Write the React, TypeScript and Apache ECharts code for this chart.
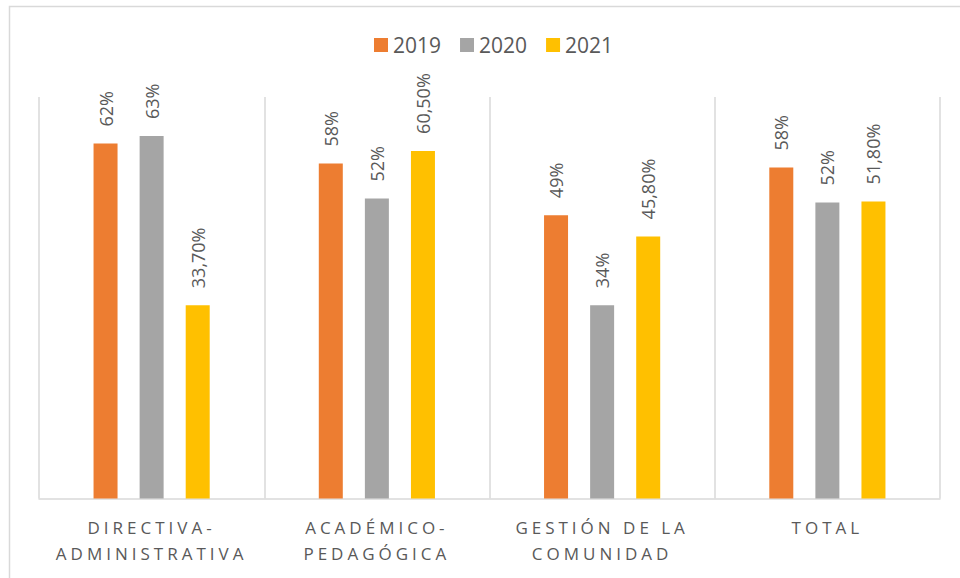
import React, { useEffect, useRef } from "react";
import * as echarts from "echarts";

const categories = [
  "DIRECTIVA-\nADMINISTRATIVA",
  "ACADÉMICO-\nPEDAGÓGICA",
  "GESTIÓN DE LA\nCOMUNIDAD",
  "TOTAL",
];
const seriesNames = ["2019", "2020", "2021"];
const values2019 = [61.9, 58.4, 49.4, 57.7];
const values2020 = [63.2, 52.3, 33.7, 51.6];
const values2021 = [33.7, 60.6, 45.7, 51.8];
const labels2019 = ["62%", "58%", "49%", "58%"];
const labels2020 = ["63%", "52%", "34%", "52%"];
const labels2021 = ["33,70%", "60,50%", "45,80%", "51,80%"];
const colors = ["#ED7D31", "#A5A5A5", "#FFC000"];

const FONT = "'Open Sans', 'Noto Sans', sans-serif";

export default function App() {
  const ref = useRef<HTMLDivElement>(null);
  useEffect(() => {
    const el = ref.current!;
    const chart = echarts.init(el, null, { renderer: "svg" });
    const allValues = [values2019, values2020, values2021];
    const allLabels = [labels2019, labels2020, labels2021];
    const series = seriesNames.map((name, i) => ({
      name,
      type: "bar",
      data: allValues[i],
      barWidth: 24,
      barGap: "92%",
      itemStyle: { color: colors[i] },
      label: {
        show: true,
        position: "top",
        rotate: 90,
        align: "left",
        verticalAlign: "middle",
        distance: 17,
        color: "#595959",
        fontFamily: FONT,
        fontSize: 18,
        formatter: (p: any) => allLabels[i][p.dataIndex],
      },
    }));
    chart.setOption({
      animation: false,
      backgroundColor: "#ffffff",
      graphic: [
        {
          type: "rect",
          shape: { x: 9.5, y: 6.5, width: 2000, height: 2000 },
          style: { fill: "none", stroke: "#d9d9d9", lineWidth: 1.5 },
          silent: true,
        },
      ],
      legend: {
        top: 28,
        left: 369,
        itemWidth: 14,
        itemHeight: 14,
        itemGap: 19,
        icon: "rect",
        textStyle: {
          color: "#595959",
          fontFamily: FONT,
          fontSize: 21,
          lineHeight: 24,
          padding: [0, 0, 0, 0],
        },
        data: seriesNames,
      },
      grid: { left: 39, right: 20, top: 97, bottom: 79.5, containLabel: false },
      xAxis: {
        type: "category",
        data: categories,
        axisTick: { show: false },
        axisLine: { show: true, lineStyle: { color: "#d9d9d9", width: 1.5 } },
        splitLine: { show: true, lineStyle: { color: "#d9d9d9", width: 1.5 } },
        axisLabel: {
          color: "#595959",
          fontFamily: FONT,
          fontSize: 17,
          lineHeight: 26,
          margin: 16,
          interval: 0,
        },
      },
      yAxis: {
        type: "value",
        min: 0,
        max: 70,
        show: false,
        splitLine: { show: false },
      },
      series,
    });
    const lineTexts = new Set<string>();
    categories.forEach((c) => c.split("\n").forEach((l) => lineTexts.add(l)));
    const applySpacing = () => {
      el.querySelectorAll("text").forEach((t) => {
        const txt = (t.textContent || "").trim();
        if (lineTexts.has(txt)) t.setAttribute("letter-spacing", "4");
      });
    };
    applySpacing();
    chart.on("finished", applySpacing);
    return () => {
      chart.dispose();
    };
  }, []);
  return (
    <div
      ref={ref}
      style={{ position: "fixed", left: 0, top: 0, width: 960, height: 578 }}
    />
  );
}
